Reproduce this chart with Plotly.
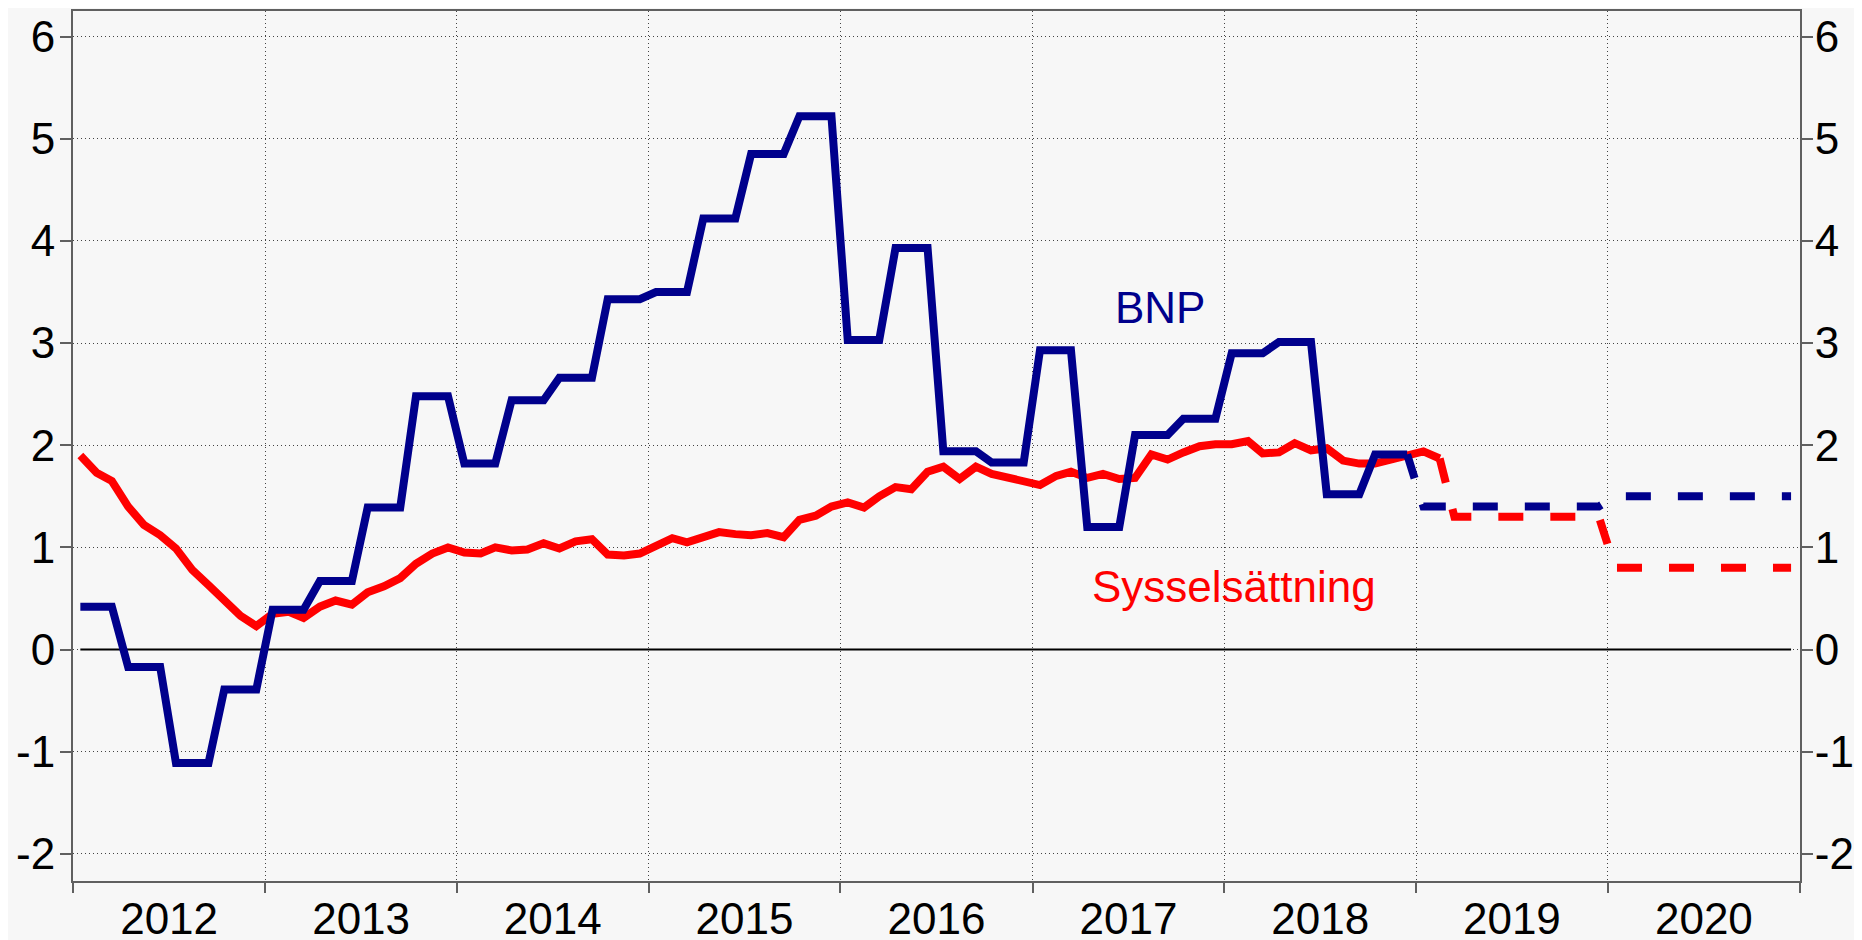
import pandas as pd
import plotly.graph_objects as go

# ---------------- data ----------------
# BNP, annual % change, quarterly values 2012Q1 .. 2018Q4 (shown monthly as steps)
bnp_kvartal = [0.42, -0.17, -1.11, -0.39,
               0.39, 0.67, 1.39, 2.48,
               1.82, 2.44, 2.66, 3.43,
               3.50, 4.22, 4.85, 5.22,
               3.03, 3.93, 1.94, 1.83,
               2.93, 1.20, 2.10, 2.26,
               2.90, 3.01, 1.52, 1.91]
# BNP forecast, 2019 and 2020
bnp_prognos_ar = [1.40, 1.50]

# Sysselsättning, monthly Jan 2012 .. Feb 2019
syss_manad = [1.90, 1.73, 1.65, 1.40, 1.22, 1.12, 0.99, 0.78, 0.63, 0.49, 0.33, 0.23,
              0.35, 0.37, 0.31, 0.42, 0.48, 0.44, 0.56, 0.62, 0.70, 0.84, 0.94, 1.00,
              0.95, 0.94, 1.00, 0.97, 0.98, 1.04, 0.99, 1.06, 1.08, 0.93, 0.92, 0.94,
              1.01, 1.09, 1.05, 1.10, 1.15, 1.13, 1.12, 1.14, 1.10, 1.27, 1.31, 1.40,
              1.44, 1.39, 1.50, 1.59, 1.57, 1.74, 1.79, 1.67, 1.79, 1.72, 1.68, 1.66,
              1.61, 1.70, 1.74, 1.68, 1.72, 1.67, 1.68, 1.91, 1.86, 1.93, 1.99, 2.01,
              2.01, 2.04, 1.92, 1.93, 2.02, 1.95, 1.97, 1.85, 1.82, 1.82, 1.86, 1.89,
              1.94, 1.87]
# Sysselsättning forecast levels: Mar-Dec 2019, 2020
syss_prognos_ar = [1.30, 0.80]

y_ticks = [-2, -1, 0, 1, 2, 3, 4, 5, 6]
y_ticktext = ["-2", "-1", "0", "1", "2", "3", "4", "5", "6"]

# ---------------- build series ----------------
months = pd.date_range("2012-01-01", "2020-12-01", freq="MS") + pd.Timedelta(days=14)

bnp_y = [v for v in bnp_kvartal for _ in range(3)]
bnp_x = list(months[:len(bnp_y)])

bnp_f_y = [bnp_kvartal[-1]] + [bnp_prognos_ar[0]] * 12 + [bnp_prognos_ar[1]] * 12
bnp_f_x = list(months[len(bnp_y) - 1:len(bnp_y) - 1 + len(bnp_f_y)])

syss_x = list(months[:len(syss_manad)])
n19 = 12 - (len(syss_manad) - 84)
syss_f_y = [syss_manad[-1]] + [syss_prognos_ar[0]] * n19 + [syss_prognos_ar[1]] * 12
syss_f_x = list(months[len(syss_manad) - 1:len(syss_manad) - 1 + len(syss_f_y)])

BLUE = "#00008C"
RED = "#FF0000"
FONT = "Liberation Sans, Arial, sans-serif"
AX = "#606060"
GRID = "#444444"
YR = [-2.265, 6.25]
FS = 44
LW = 8

fig = go.Figure()
fig.add_trace(go.Scatter(x=[months[0], months[-1]], y=[0, 0], mode="lines",
                         line=dict(color="black", width=2), hoverinfo="skip", showlegend=False))
fig.add_trace(go.Scatter(x=syss_x, y=syss_manad, mode="lines",
                         line=dict(color=RED, width=LW), showlegend=False, name="Sysselsättning"))
fig.add_trace(go.Scatter(x=syss_f_x, y=syss_f_y, mode="lines",
                         line=dict(color=RED, width=LW, dash="25px,27px"), showlegend=False))
fig.add_trace(go.Scatter(x=bnp_x, y=bnp_y, mode="lines",
                         line=dict(color=BLUE, width=LW), showlegend=False, name="BNP"))
fig.add_trace(go.Scatter(x=bnp_f_x, y=bnp_f_y, mode="lines",
                         line=dict(color=BLUE, width=LW, dash="25px,27px"), showlegend=False))
# invisible trace so the right-hand axis is drawn
fig.add_trace(go.Scatter(x=[months[0], months[-1]], y=[0, 0], mode="lines", yaxis="y2",
                         line=dict(width=0), opacity=0, hoverinfo="skip", showlegend=False))

# the page adds an 8px body margin at top/left, so the figure is 8px smaller than the window
fig.update_layout(
    width=1854, height=932, autosize=False,
    margin=dict(l=65, r=62, t=3, b=59, autoexpand=False),
    plot_bgcolor="#F7F7F7", paper_bgcolor="#F7F7F7",
    font=dict(family=FONT, size=FS, color="black"),
    xaxis=dict(type="date", range=["2012-01-01", "2021-01-01"], automargin=False,
               tick0="2012-01-01", dtick="M12", tickformat="%Y", ticklabelmode="period",
               ticks="outside", ticklen=10, tickwidth=2, tickcolor=AX,
               showline=True, linecolor=AX, linewidth=2, mirror=True,
               showgrid=True, gridcolor=GRID, gridwidth=1, griddash="1px,3px",
               zeroline=False, ticklabelstandoff=-12,
               tickfont=dict(size=FS, family=FONT, color="black")),
    yaxis=dict(range=YR, tickvals=y_ticks, ticktext=y_ticktext, automargin=False,
               ticks="outside", ticklen=11, tickwidth=2, tickcolor=AX,
               showline=True, linecolor=AX, linewidth=2,
               showgrid=True, gridcolor=GRID, gridwidth=1, griddash="1px,3px",
               zeroline=False, ticklabelstandoff=-4,
               tickfont=dict(size=FS, family=FONT, color="black")),
    yaxis2=dict(range=YR, tickvals=y_ticks, ticktext=y_ticktext, overlaying="y", side="right",
                automargin=False,
                ticks="outside", ticklen=11, tickwidth=2, tickcolor=AX,
                showline=True, linecolor=AX, linewidth=2,
                showgrid=False, zeroline=False, ticklabelstandoff=-7,
                tickfont=dict(size=FS, family=FONT, color="black")),
    annotations=[
        dict(text="BNP", xref="paper", yref="y", x=0.6295, y=3.35, showarrow=False,
             xanchor="center", yanchor="middle", font=dict(size=FS, color=BLUE, family=FONT)),
        dict(text="Sysselsättning", xref="paper", yref="y", x=0.6723, y=0.613, showarrow=False,
             xanchor="center", yanchor="middle", font=dict(size=FS, color=RED, family=FONT)),
    ],
)

fig.write_html("out.html")
